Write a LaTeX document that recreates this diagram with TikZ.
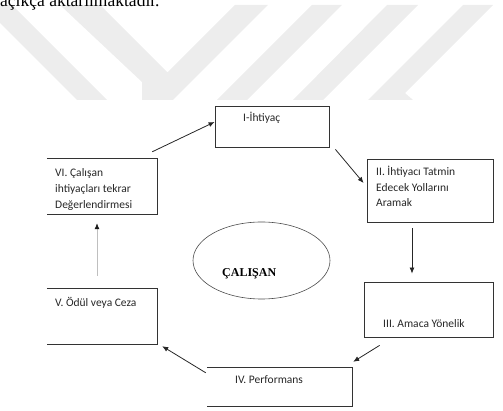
\documentclass[tikz,border=0pt]{standalone}
\usepackage{fontspec}
\setmainfont{Liberation Serif}
\newfontfamily\boxfont{Carlito}
\usetikzlibrary{arrows.meta,shapes.geometric}
\tikzset{
  wm/.style={fill=black!7, draw=none},
  boxshape/.style={rectangle, inner sep=0pt, draw=black!80, line width=0.8pt},
  openbox/.style={rectangle, inner sep=0pt, draw=none},
  side/.style={draw=black!80, line width=0.8pt},
  lbl/.style={anchor=base west, inner sep=0pt, font=\boxfont\fontsize{11.5}{14}\selectfont, text=black!85},
  conn/.style={draw=black!85, line width=0.8pt, -{Latex[length=6pt,width=5pt]}},
  lightconn/.style={draw=black!25, line width=0.8pt, -{Latex[length=6pt,width=5pt,color=black!90]}},
}
\begin{document}
\begin{tikzpicture}[x=1pt,y=-1pt]
\useasboundingbox (0,0) rectangle (503,411);
\clip (0,0) rectangle (503,411);
% watermark
\fill[wm] (-18,5) -- (12,5) -- (107,100) -- (77,100) -- cycle;
\fill[wm] (60,5) -- (100,5) -- (167.5,72.5) -- (235,5) -- (268,5) -- (173,100) -- (142,100) -- (142,82) -- cycle;
\fill[wm] (312,5) -- (342,5) -- (247,100) -- (217,100) -- cycle;
\fill[wm] (387,5) -- (418,5) -- (323,100) -- (293,100) -- cycle;
\fill[wm] (463,5) -- (493,5) -- (405,93) -- (413,100) -- (368,100) -- cycle;
% top text
\node[anchor=base west, inner sep=0pt, font=\fontsize{17.5}{20}\selectfont] (toptext) at (0,7) {açıkça aktarılmaktadır.};
% boxes
\node[boxshape, minimum width=114pt, minimum height=41pt] (i) at (272,126.5) {};
\node[boxshape, minimum width=126pt, minimum height=63pt] (ii) at (430,190.5) {};
\node[boxshape, minimum width=129pt, minimum height=55pt] (iii) at (428.5,309.5) {};
\node[openbox, minimum width=145pt, minimum height=38pt] (iv) at (279.5,387) {};
\node[openbox, minimum width=110pt, minimum height=55pt] (v) at (102,316.5) {};
\node[openbox, minimum width=110pt, minimum height=55pt] (vi) at (102,186.5) {};
\draw[side] (iv.north west) -- (iv.north east) -- (iv.south east) -- (iv.south west);
\draw[side] (v.north west) -- (v.north east) -- (v.south east) -- (v.south west);
\draw[side] (vi.north west) -- (vi.north east) -- (vi.south east) -- (vi.south west);
% ellipse
\node[ellipse, draw=black!70, line width=0.6pt, minimum width=137pt, minimum height=77pt, inner sep=0pt] (emp) at (261.5,260.5) {};
\node[anchor=base west, inner sep=0pt, font=\bfseries\fontsize{12}{14}\selectfont] (emptext) at (222,277) {ÇALIŞAN};
% labels
\node[lbl] (ti) at (243,122) {I-İhtiyaç};
\node[lbl] (tii1) at (376,176) {II. İhtiyacı Tatmin};
\node[lbl] (tii2) at (376,191.5) {Edecek Yollarını};
\node[lbl] (tii3) at (376,207) {Aramak};
\node[lbl] (tiii) at (383,327) {III. Amaca Yönelik};
\node[lbl] (tiv) at (235,383) {IV. Performans};
\node[lbl] (tv) at (55,307) {V. Ödül veya Ceza};
\node[lbl] (tvi1) at (55,177) {VI. Çalışan};
\node[lbl] (tvi2) at (55,193) {ihtiyaçları tekrar};
\node[lbl] (tvi3) at (55,209) {Değerlendirmesi};
% connectors
\draw[conn] ([shift={(-5,-7)}]vi.north east) -- ([shift={(0,-4.5)}]i.west);
\draw[conn] ([shift={(6,2)}]i.south east) -- ([shift={(-3,-7.5)}]ii.west);
\draw[conn] ([shift={(-18,6)}]ii.south) -- ([shift={(-16.5,-8)}]iii.north);
\draw[conn] ([shift={(16,8)}]iii.south west) -- ([shift={(1,-6)}]iv.north east);
\draw[conn] ([shift={(-1,5)}]iv.north west) -- ([shift={(5,2)}]v.south east);
\draw[lightconn] ([shift={(-5,-13)}]v.north) -- ([shift={(-5,9)}]vi.south);
\end{tikzpicture}
\end{document}
